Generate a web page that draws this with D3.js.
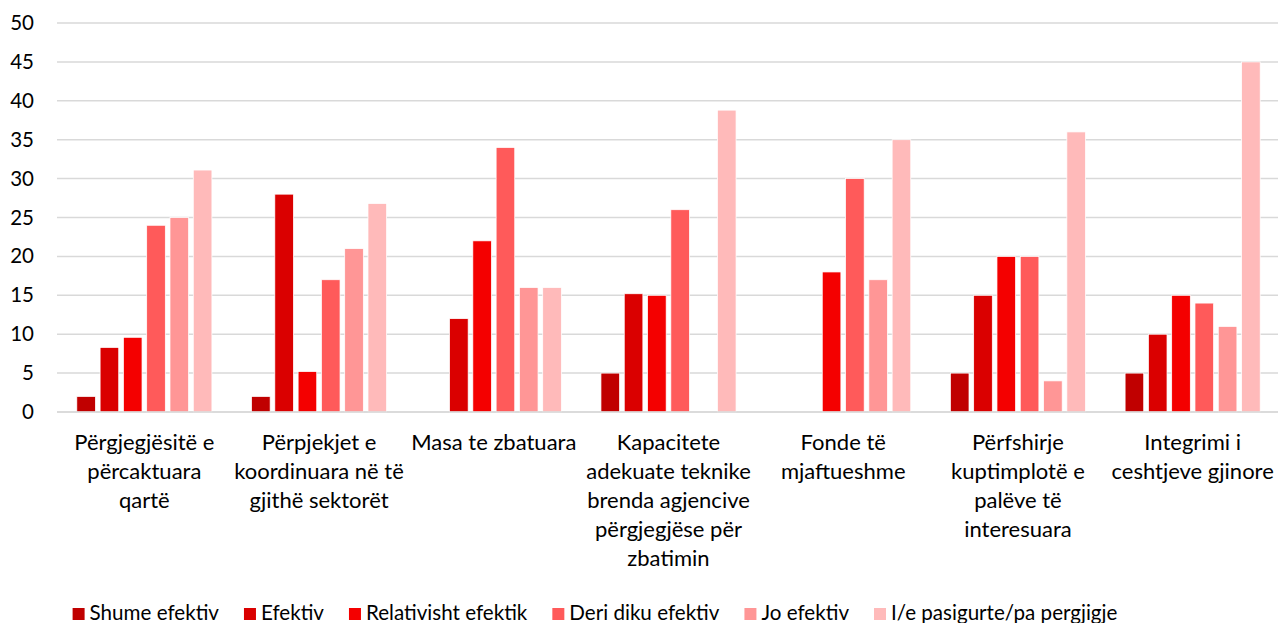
<!DOCTYPE html>
<html>
<head>
<meta charset="utf-8">
<script src="https://cdn.jsdelivr.net/npm/d3@7"></script>
<style>
  html, body { margin: 0; padding: 0; background: #fff; }
  svg { display: block; font-family: Lato, "Open Sans", sans-serif; }
</style>
</head>
<body>
<svg id="chart" width="1278" height="623"></svg>
<script>
const categories = [
  "Përgjegjësitë e\npërcaktuara\nqartë",
  "Përpjekjet e\nkoordinuara në të\ngjithë sektorët",
  "Masa te zbatuara",
  "Kapacitete\nadekuate teknike\nbrenda agjencive\npërgjegjëse për\nzbatimin",
  "Fonde të\nmjaftueshme",
  "Përfshirje\nkuptimplotë e\npalëve të\ninteresuara",
  "Integrimi i\nceshtjeve gjinore"
];
const seriesNames = ["Shume efektiv", "Efektiv", "Relativisht efektik", "Deri diku efektiv", "Jo efektiv", "I/e pasigurte/pa pergjigje"];
const shumeEfektiv      = [2, 2, 0, 5, 0, 5, 5];
const efektiv           = [8.3, 28, 12, 15.2, 0, 15, 10];
const relativishtEfektik= [9.6, 5.2, 22, 15, 18, 20, 15];
const deriDikuEfektiv   = [24, 17, 34, 26, 30, 20, 14];
const joEfektiv         = [25, 21, 16, 0, 17, 4, 11];
const pasigurte         = [31.1, 26.8, 16, 38.8, 35, 36, 45];
const seriesValues = [shumeEfektiv, efektiv, relativishtEfektik, deriDikuEfektiv, joEfektiv, pasigurte];
const yTicks = [0, 5, 10, 15, 20, 25, 30, 35, 40, 45, 50];
const colors = ["#C00000", "#DA0000", "#F40000", "#FF5A5A", "#FF9696", "#FFBABA"];

const svg = d3.select("#chart");
const m = { left: 57, right: 1280, top: 23, bottom: 412 };

const x0 = d3.scaleBand().domain(d3.range(categories.length)).range([m.left, m.right]).paddingInner(0.2).paddingOuter(0.1);
const x1 = d3.scaleBand().domain(d3.range(seriesNames.length)).range([0, x0.bandwidth()]).paddingInner(0.2).paddingOuter(0.1);
const y = d3.scaleLinear().domain([0, 50]).range([m.bottom, m.top]);

// gridlines
svg.append("g").selectAll("line").data(yTicks).join("line")
  .attr("x1", m.left).attr("x2", 1278)
  .attr("y1", d => y(d)).attr("y2", d => y(d))
  .attr("stroke", "#d9d9d9").attr("stroke-width", 1.5);

// y axis labels
const yAxis = d3.axisLeft(y).tickValues(yTicks).tickSize(0).tickPadding(0);
const ya = svg.append("g").attr("transform", "translate(34,0)").call(yAxis);
ya.select(".domain").remove();
ya.selectAll("text").attr("font-size", 20.5).attr("fill", "#000").attr("font-family", "Lato");

// bars
const groups = svg.append("g").selectAll("g").data(categories).join("g")
  .attr("transform", (d, i) => `translate(${x0(i)},0)`);
groups.selectAll("rect").data((d, i) => seriesValues.map((s, k) => ({ k, v: s[i] }))).join("rect")
  .filter(d => d.v > 0)
  .attr("x", d => x1(d.k)).attr("width", x1.bandwidth())
  .attr("y", d => y(d.v)).attr("height", d => y(0) - y(d.v))
  .attr("fill", d => colors[d.k])
  .attr("stroke", "#fff").attr("stroke-width", 0.75);

// baseline
svg.append("line").attr("x1", m.left).attr("x2", 1278).attr("y1", y(0)).attr("y2", y(0))
  .attr("stroke", "#d9d9d9").attr("stroke-width", 1.5);

// category labels
const cl = svg.append("g").selectAll("text").data(categories).join("text")
  .attr("x", (d, i) => x0(i) + x0.bandwidth() / 2)
  .attr("y", 450)
  .attr("text-anchor", "middle").attr("font-size", 22).attr("fill", "#000");
cl.selectAll("tspan").data(d => d.split("\n")).join("tspan")
  .attr("x", function () { return d3.select(this.parentNode).attr("x"); })
  .attr("dy", (d, j) => j === 0 ? 0 : 29)
  .text(d => d);

// legend
const leg = svg.append("g");
let cx = 0;
seriesNames.forEach((name, k) => {
  const g = leg.append("g");
  g.append("rect").attr("x", 0).attr("y", 608).attr("width", 12).attr("height", 12).attr("fill", colors[k]);
  const t = g.append("text").attr("x", 17).attr("y", 620).attr("font-size", 20.6).attr("fill", "#000").text(name);
  const w = t.node().getComputedTextLength();
  g.attr("transform", `translate(${cx},0)`);
  cx += 17 + w + 25;
});
const total = cx - 25;
leg.attr("transform", `translate(${595 - total / 2},0)`);
</script>
</body>
</html>
